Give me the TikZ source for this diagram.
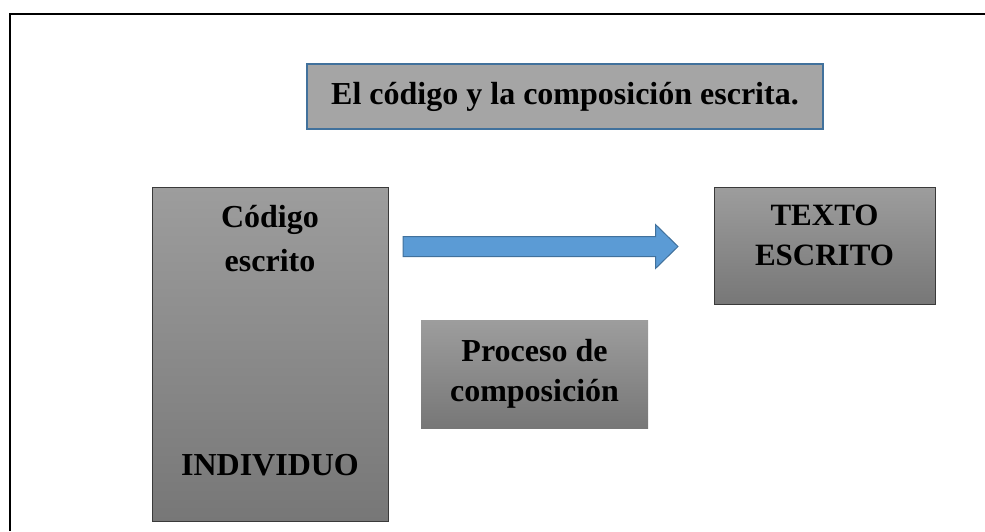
\documentclass[tikz,border=0pt]{standalone}
\usepackage{fontspec}
\setmainfont{Liberation Serif}

\definecolor{edgeblue}{HTML}{41719C}
\definecolor{arrowblue}{HTML}{5B9BD5}
\definecolor{titlegray}{HTML}{A5A5A5}
\definecolor{shadetop}{HTML}{9D9D9D}
\definecolor{shadebot}{HTML}{777777}
\definecolor{edgegray}{HTML}{3A3A3A}

\tikzset{
  graybox/.style={rectangle, top color=shadetop, bottom color=shadebot, inner sep=0pt},
  bigtext/.style={font=\fontsize{32}{42}\selectfont\bfseries, align=center, inner sep=0pt},
}

\begin{document}
\begin{tikzpicture}[x=1pt,y=-1pt]
        \useasboundingbox (0,0) rectangle (985,531);

        % Frame (only top and left sides show)
        \draw[line width=2.5pt] (10,531) -- (10,13.8) -- (985,13.8);

        % Title
        \node[draw=edgeblue, line width=1.5pt, fill=titlegray, minimum width=516pt, minimum height=65pt, bigtext] (title) at (565,96.5) {El código y la composición escrita.};

        % Left box
        \node[graybox, draw=edgegray, minimum width=236pt, minimum height=334pt] (codigo) at (270,354) {};
        \node[bigtext, anchor=base, font=\fontsize{32}{44}\selectfont\bfseries] (codtxt) at (270,271) {Código\\escrito};
        \node[bigtext, anchor=base] (indiv) at (270,475) {INDIVIDUO};

        % Right box
        \node[graybox, draw=edgegray, minimum width=221pt, minimum height=117pt] (texto) at (824.5,245.5) {};
        \node[bigtext, anchor=base, font=\fontsize{31}{40}\selectfont\bfseries] (textxt) at (824.5,265) {TEXTO\\ESCRITO};

        % Middle box
        \node[graybox, minimum width=227pt, minimum height=108pt] (proceso) at (534.5,374) {};
        \node[bigtext, anchor=base, font=\fontsize{32}{40}\selectfont\bfseries] (protxt) at (534.5,401.5) {Proceso de\\composición};

        % Block arrow
        \coordinate (arrtail) at (403,246.5);
        \coordinate (arrtip) at (678,246.5);
        \draw[edgeblue, fill=arrowblue, line width=1pt] (arrtail) ++(0,-10) -- ++(252.5,0) -- ++(0,-12) -- (arrtip)
            -- ++(-22.5,22) -- ++(0,-12) -- ++(-252.5,0) -- cycle;
\end{tikzpicture}
\end{document}
